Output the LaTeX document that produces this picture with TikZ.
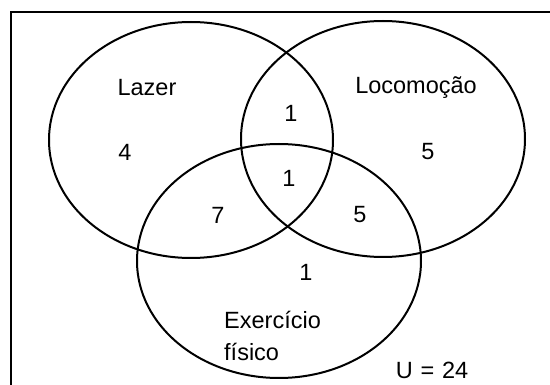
\documentclass[tikz,border=0pt]{standalone}
\usepackage{fontspec}
\setmainfont{Liberation Sans}
\begin{document}
\begin{tikzpicture}[x=1pt,y=-1pt,
  setline/.style={line width=2pt},
  lbl/.style={inner sep=0pt,font=\fontsize{23.5}{28}\selectfont}]
\useasboundingbox (0,0) rectangle (550,385);
\clip (0,0) rectangle (550,385);
\fill[white] (0,0) rectangle (550,385);
\draw[line width=2pt] (10.5,400) -- (10.5,12.5) -- (560,12.5);
\draw[setline] (191,140) ellipse [x radius=142, y radius=118];
\draw[setline] (383,139) ellipse [x radius=142, y radius=118];
\draw[setline] (279,261) ellipse [x radius=142, y radius=117];
\node[lbl] (lazer) at (147,88) {Lazer};
\node[lbl] (loco) at (416,88) {Locomoção};
\node[lbl] (n1a) at (291,113) {1};
\node[lbl] (n4) at (125,152) {4};
\node[lbl] (n5a) at (428,152) {5};
\node[lbl] (n1b) at (289,178) {1};
\node[lbl] (n7) at (218,215) {7};
\node[lbl] (n5b) at (360,215) {5};
\node[lbl] (n1c) at (306,272) {1};
\node[lbl,anchor=west] (ex) at (224,320) {Exercício};
\node[lbl,anchor=west] (fi) at (224,352) {físico};
\node[lbl] (u) at (432,370) {U\,\,=\,\,24};
\end{tikzpicture}
\end{document}
